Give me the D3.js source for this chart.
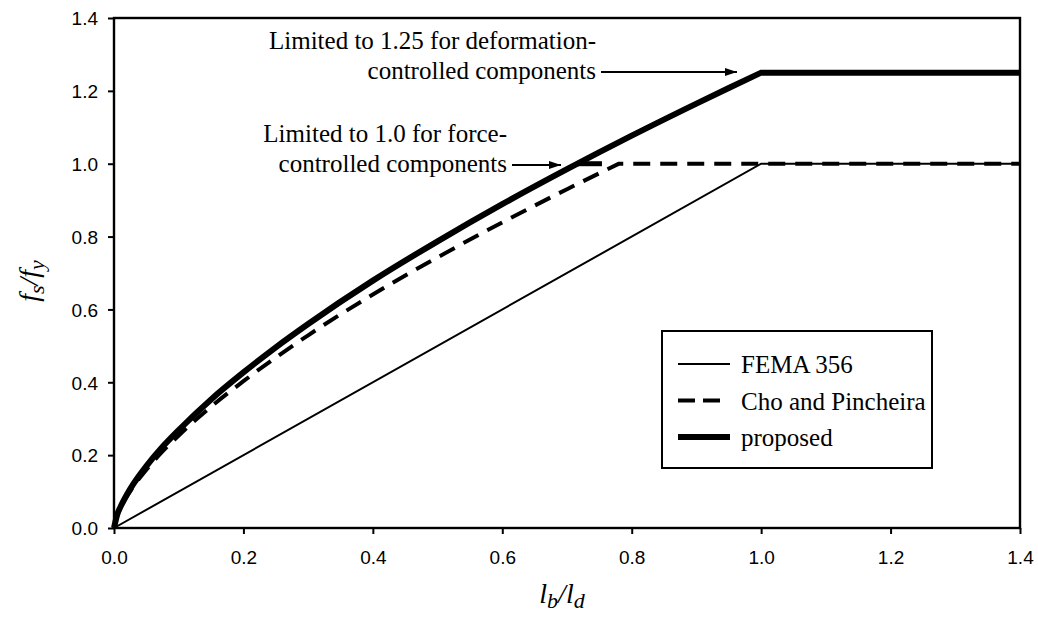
<!DOCTYPE html>
<html><head><meta charset="utf-8">
<script src="https://cdn.jsdelivr.net/npm/d3@7"></script>
<style>body{margin:0;background:#fff}</style>
</head><body>
<svg id="c" width="1038" height="617"></svg>
<script>
// ---- data ----
const xTicks = [0.0, 0.2, 0.4, 0.6, 0.8, 1.0, 1.2, 1.4];
const yTicks = [0.0, 0.2, 0.4, 0.6, 0.8, 1.0, 1.2, 1.4];

const femaX = [0, 1.0, 1.4];
const femaY = [0, 1.0, 1.0];

const choX = [0, 0.005, 0.01, 0.02, 0.03, 0.05, 0.075, 0.1, 0.15, 0.2, 0.25, 0.3, 0.4, 0.5, 0.6, 0.7, 0.78];
const choY = [0, 0.035, 0.055, 0.087, 0.114, 0.160, 0.210, 0.254, 0.333, 0.403, 0.468, 0.529, 0.641, 0.743, 0.839, 0.930, 1.0];
const choCapX = [0.78, 1.4];
const choCapY = [1.0, 1.0];

const propX = [0, 0.005, 0.01, 0.02, 0.03, 0.05, 0.075, 0.1, 0.15, 0.2, 0.25, 0.3, 0.4, 0.5, 0.6, 0.7, 0.8, 0.9, 0.95, 1.0];
const propY = [0, 0.037, 0.058, 0.092, 0.121, 0.170, 0.223, 0.269, 0.353, 0.427, 0.496, 0.560, 0.679, 0.787, 0.889, 0.985, 1.077, 1.165, 1.208, 1.25];
const propCapX = [1.0, 1.4];
const propCapY = [1.25, 1.25];
const forceCapX = [0.716, 0.754];
const forceCapY = [1.0, 1.0];

const legendLabels = ["FEMA 356", "Cho and Pincheira", "proposed"];
const annot1 = ["Limited to 1.25 for deformation-", "controlled components"];
const annot2 = ["Limited to 1.0 for force-", "controlled components"];

// ---- layout ----
const L = 114, R = 1020, T = 18, B = 528;
const svg = d3.select("#c");
const x = d3.scaleLinear().domain([0, 1.4]).range([L, R]);
const y = d3.scaleLinear().domain([0, 1.4]).range([B, T]);

const serif = "'Liberation Serif','Times New Roman',serif";
const sans = "'Liberation Sans',Arial,sans-serif";

// axes
const xAxis = svg.append("g").attr("transform", `translate(0,${B})`)
  .call(d3.axisBottom(x).tickValues(xTicks).tickFormat(d3.format(".1f")).tickSize(6).tickPadding(17));
const yAxis = svg.append("g").attr("transform", `translate(${L},0)`)
  .call(d3.axisLeft(y).tickValues(yTicks).tickFormat(d3.format(".1f")).tickSize(6).tickPadding(10));
[xAxis, yAxis].forEach(g => {
  g.select(".domain").remove();
  g.selectAll("line").attr("stroke", "#000").attr("stroke-width", 2);
  g.selectAll("text").attr("font-family", sans).attr("font-size", 19).attr("fill", "#000");
});
yAxis.selectAll("text").attr("dy", "0.36em");

// frame
svg.append("rect").attr("x", L).attr("y", T).attr("width", R - L).attr("height", B - T)
  .attr("fill", "none").attr("stroke", "#000").attr("stroke-width", 2.4);

const toPts = (xs, ys) => xs.map((d, i) => [d, ys[i]]);
const curve = d3.line().x(d => x(d[0])).y(d => y(d[1])).curve(d3.curveMonotoneX);
const lin = d3.line().x(d => x(d[0])).y(d => y(d[1]));

// FEMA
svg.append("path").attr("d", lin(toPts(femaX, femaY)))
  .attr("fill", "none").attr("stroke", "#000").attr("stroke-width", 2);

// Cho and Pincheira
const choPath = curve(toPts(choX, choY)) + lin(toPts(choCapX, choCapY)).replace(/^M/, "L");
svg.append("path").attr("d", choPath)
  .attr("fill", "none").attr("stroke", "#000").attr("stroke-width", 4)
  .attr("stroke-dasharray", "17,10");

// proposed
const propPath = curve(toPts(propX, propY)) + lin(toPts(propCapX, propCapY)).replace(/^M/, "L");
svg.append("path").attr("d", propPath)
  .attr("fill", "none").attr("stroke", "#000").attr("stroke-width", 6).attr("stroke-linejoin", "miter");
svg.append("path").attr("d", lin(toPts(forceCapX, forceCapY)))
  .attr("fill", "none").attr("stroke", "#000").attr("stroke-width", 5);

// legend
const lg = svg.append("g");
lg.append("rect").attr("x", 662).attr("y", 331).attr("width", 270).attr("height", 137)
  .attr("fill", "#fff").attr("stroke", "#000").attr("stroke-width", 2);
const lgStyles = [
  {w: 2, dash: null, x2: 730},
  {w: 4, dash: "17,8", x2: 720},
  {w: 6, dash: null, x2: 730}
];
legendLabels.forEach((lab, i) => {
  const yy = 364 + i * 36.5;
  lg.append("line").attr("x1", 678).attr("x2", lgStyles[i].x2).attr("y1", yy).attr("y2", yy)
    .attr("stroke", "#000").attr("stroke-width", lgStyles[i].w)
    .attr("stroke-dasharray", lgStyles[i].dash);
  lg.append("text").attr("x", 741).attr("y", yy + 9).text(lab)
    .attr("font-family", serif).attr("font-size", 25).attr("fill", "#000");
});

// annotations
const defs = svg.append("defs");
defs.append("marker").attr("id", "ah").attr("viewBox", "0 0 12 8").attr("refX", 12).attr("refY", 4)
  .attr("markerWidth", 12).attr("markerHeight", 8).attr("markerUnits", "userSpaceOnUse").attr("orient", "auto")
  .append("path").attr("d", "M0,0L12,4L0,8Z").attr("fill", "#000");

function annot(lines, xr, y1, ax1, ax2, ay) {
  lines.forEach((t, i) => {
    svg.append("text").attr("x", xr).attr("y", y1 + i * 30.5).attr("text-anchor", "end")
      .attr("font-family", serif).attr("font-size", 25).attr("fill", "#000").text(t);
  });
  svg.append("line").attr("x1", ax1).attr("x2", ax2).attr("y1", ay).attr("y2", ay)
    .attr("stroke", "#000").attr("stroke-width", 2).attr("marker-end", "url(#ah)");
}
annot(annot1, 596, 48.5, 601, 737, 72);
annot(annot2, 507, 141.5, 512, 561, 165);

// axis titles
const xt = svg.append("text").attr("x", (L + R) / 2 - 5).attr("y", 603).attr("text-anchor", "middle")
  .attr("font-family", serif).attr("font-style", "italic").attr("font-size", 28).attr("fill", "#000");
xt.append("tspan").text("l");
xt.append("tspan").attr("font-size", 22).attr("dy", 5).text("b");
xt.append("tspan").attr("dy", -5).text("/l");
xt.append("tspan").attr("font-size", 22).attr("dy", 5).text("d");

const yt = svg.append("text").attr("transform", `translate(38,${(T + B) / 2 + 8}) rotate(-90)`)
  .attr("text-anchor", "middle")
  .attr("font-family", serif).attr("font-style", "italic").attr("font-size", 28).attr("fill", "#000");
yt.append("tspan").text("f");
yt.append("tspan").attr("font-size", 22).attr("dy", 6).text("s");
yt.append("tspan").attr("dy", -6).text("/f");
yt.append("tspan").attr("font-size", 22).attr("dy", 6).text("y");
</script>
</body></html>
